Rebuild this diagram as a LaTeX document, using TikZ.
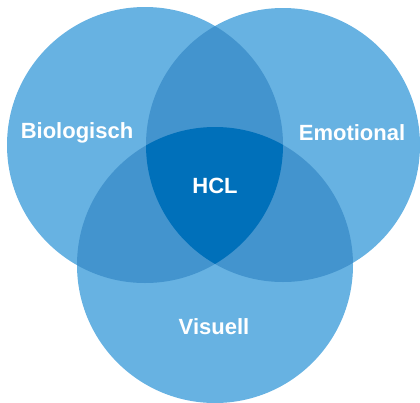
\documentclass[tikz,border=0pt]{standalone}
\usepackage{fontspec}
\setmainfont{Liberation Sans}
\definecolor{venLight}{RGB}{103,178,226}
\definecolor{venMid}{RGB}{67,148,206}
\definecolor{venDark}{RGB}{0,112,186}
\begin{document}
\begin{tikzpicture}[x=1pt, y=-1pt,
    label/.style={text=white, font=\bfseries\fontsize{22}{25}\selectfont}]
    \useasboundingbox (0,0) rectangle (420,402);
    \coordinate (BioC) at (145,145);
    \coordinate (EmoC) at (283,145);
    \coordinate (VisC) at (215,265);

    \fill[venLight] (BioC) circle[radius=138pt];
    \fill[venLight] (EmoC) circle[radius=137pt];
    \fill[venLight] (VisC) circle[radius=138pt];

    \begin{scope}
        \clip (BioC) circle[radius=138pt];
        \fill[venMid] (EmoC) circle[radius=137pt];
        \fill[venMid] (VisC) circle[radius=138pt];
    \end{scope}
    \begin{scope}
        \clip (EmoC) circle[radius=137pt];
        \fill[venMid] (VisC) circle[radius=138pt];
    \end{scope}
    \begin{scope}
        \clip (BioC) circle[radius=138pt];
        \clip (EmoC) circle[radius=137pt];
        \fill[venDark] (VisC) circle[radius=138pt];
    \end{scope}

    \node at (77,133) [label] (Bio) {Biologisch};
    \node at (352,133) [label] (Emo) {Emotional};
    \node at (215,186) [label] (HCL) {HCL};
    \node at (214,327) [label] (Vis) {Visuell};
\end{tikzpicture}
\end{document}
